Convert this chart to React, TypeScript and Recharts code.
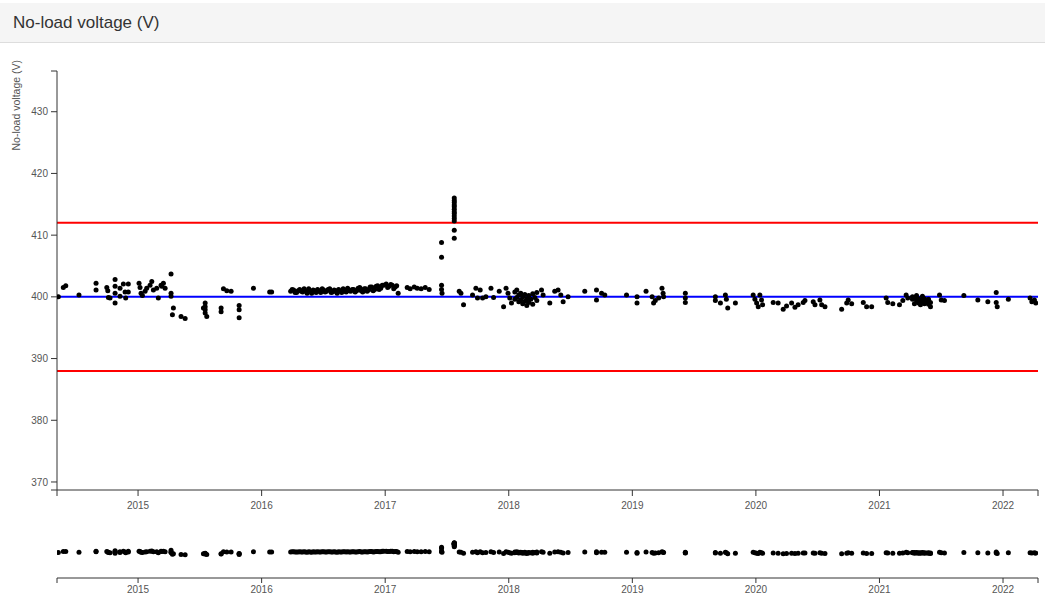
import React from 'react';
import { ScatterChart, Scatter, XAxis, YAxis, ReferenceLine, Label } from 'recharts';

// Each reading: [decimal year, no-load voltage in V]
type Reading = [number, number];

const readings2014: Reading[] = [
  [2014.355, 400.0], [2014.395, 401.5], [2014.415, 401.8], [2014.522, 400.3],
  [2014.660, 402.2], [2014.660, 401.1], [2014.747, 401.5], [2014.755, 401.0],
  [2014.760, 399.9], [2014.773, 399.8], [2014.814, 402.8], [2014.814, 401.7],
  [2014.814, 400.6], [2014.814, 399.0], [2014.854, 401.4], [2014.854, 400.1],
  [2014.881, 402.1], [2014.895, 400.8], [2014.900, 399.8], [2014.921, 402.1],
  [2014.921, 400.8],
];

const readings2015: Reading[] = [
  [2015.008, 402.2], [2015.016, 401.5], [2015.024, 400.6], [2015.035, 400.2],
  [2015.057, 400.9], [2015.070, 401.4], [2015.097, 401.9], [2015.111, 402.5],
  [2015.124, 401.1], [2015.151, 401.4], [2015.164, 399.8], [2015.186, 401.9],
  [2015.192, 401.7], [2015.205, 402.2], [2015.219, 401.4], [2015.267, 403.7],
  [2015.267, 400.6], [2015.267, 400.1], [2015.278, 397.1], [2015.286, 398.2],
  [2015.348, 396.8], [2015.381, 396.5], [2015.529, 398.2], [2015.543, 399.0],
  [2015.543, 398.4], [2015.543, 397.9], [2015.543, 397.4], [2015.556, 396.8],
  [2015.672, 398.2], [2015.672, 397.6], [2015.691, 401.3], [2015.718, 401.0],
  [2015.753, 400.9], [2015.818, 398.6], [2015.818, 397.9], [2015.818, 396.6],
  [2015.934, 401.4],
];

const readings2016: Reading[] = [
  [2016.065, 400.8], [2016.081, 400.8],
  [2016.235, 400.9], [2016.247, 401.2], [2016.259, 401.1], [2016.271, 400.7],
  [2016.283, 400.7], [2016.295, 401.0], [2016.308, 401.2], [2016.320, 400.9],
  [2016.332, 400.8], [2016.344, 401.3], [2016.356, 401.0], [2016.368, 400.6],
  [2016.381, 401.3], [2016.393, 400.9], [2016.405, 400.6], [2016.417, 401.1],
  [2016.429, 401.0], [2016.441, 400.7], [2016.453, 401.2], [2016.466, 400.9],
  [2016.478, 400.7], [2016.490, 401.3], [2016.502, 401.1], [2016.514, 400.8],
  [2016.526, 400.9], [2016.538, 401.2], [2016.551, 401.3], [2016.563, 400.7],
  [2016.575, 400.8], [2016.587, 401.1], [2016.599, 401.0], [2016.611, 400.6],
  [2016.623, 401.2], [2016.636, 400.9], [2016.648, 400.7], [2016.660, 401.3],
  [2016.672, 401.1], [2016.684, 400.8], [2016.696, 401.4], [2016.709, 401.0],
  [2016.721, 400.9], [2016.733, 401.2], [2016.745, 401.2], [2016.757, 400.8],
  [2016.769, 401.0], [2016.781, 401.4], [2016.794, 401.5], [2016.806, 401.0],
  [2016.818, 400.8], [2016.830, 401.3], [2016.842, 401.3], [2016.854, 400.9],
  [2016.866, 401.1], [2016.878, 401.6], [2016.891, 401.6], [2016.903, 401.0],
  [2016.915, 401.2], [2016.927, 401.7], [2016.939, 401.8], [2016.951, 401.2],
  [2016.964, 401.4], [2016.976, 401.9], [2016.988, 401.9],
];

const readings2017: Reading[] = [
  [2017.008, 402.1], [2017.020, 401.5], [2017.032, 401.7], [2017.045, 402.0],
  [2017.057, 401.9], [2017.069, 401.3], [2017.081, 401.6], [2017.093, 401.8],
  [2017.105, 400.6], [2017.178, 401.5], [2017.202, 401.3], [2017.235, 401.6],
  [2017.259, 401.4], [2017.291, 401.3], [2017.324, 401.5], [2017.356, 401.2],
  [2017.456, 408.8], [2017.456, 406.4], [2017.456, 401.9], [2017.456, 401.2],
  [2017.460, 400.6],
  [2017.559, 416.0], [2017.559, 415.6], [2017.559, 415.3], [2017.559, 414.9],
  [2017.559, 414.6], [2017.559, 414.2], [2017.559, 413.8], [2017.559, 413.5],
  [2017.559, 413.1], [2017.559, 412.7], [2017.559, 412.3], [2017.559, 410.8],
  [2017.559, 409.5],
  [2017.599, 400.9], [2017.613, 400.6], [2017.634, 398.7], [2017.707, 400.3],
  [2017.734, 401.4], [2017.747, 399.8], [2017.769, 401.1], [2017.788, 399.8],
  [2017.815, 400.0], [2017.856, 401.4], [2017.877, 399.9], [2017.923, 400.9],
  [2017.958, 398.4], [2017.978, 401.4], [2017.994, 400.6],
];

const readings2018: Reading[] = [
  [2018.008, 399.8], [2018.022, 399.0], [2018.049, 400.8], [2018.049, 399.6],
  [2018.065, 401.1], [2018.065, 399.9], [2018.081, 400.3], [2018.081, 399.2],
  [2018.097, 400.6], [2018.097, 399.5], [2018.113, 400.0], [2018.113, 398.9],
  [2018.130, 400.4], [2018.130, 399.3], [2018.146, 399.7], [2018.146, 398.6],
  [2018.162, 400.2], [2018.162, 399.1], [2018.178, 399.6], [2018.194, 400.5],
  [2018.194, 398.8], [2018.211, 399.9], [2018.227, 400.7], [2018.227, 399.4],
  [2018.265, 401.1], [2018.278, 400.3], [2018.332, 399.0], [2018.372, 400.9],
  [2018.399, 401.1], [2018.421, 400.3], [2018.440, 399.2], [2018.480, 400.0],
  [2018.615, 400.9], [2018.710, 401.1], [2018.710, 399.5], [2018.751, 400.6],
  [2018.777, 400.3], [2018.953, 400.3],
];

const readings2019: Reading[] = [
  [2019.038, 400.0], [2019.038, 399.0], [2019.111, 400.9], [2019.160, 400.0],
  [2019.172, 399.0], [2019.186, 399.4], [2019.213, 399.8], [2019.240, 401.4],
  [2019.249, 400.6], [2019.253, 400.0], [2019.429, 400.6], [2019.429, 399.8],
  [2019.429, 399.1], [2019.672, 400.0], [2019.672, 399.4], [2019.713, 399.0],
  [2019.753, 400.3], [2019.761, 399.6], [2019.772, 398.2], [2019.834, 399.0],
  [2019.978, 400.3], [2019.992, 399.6],
];

const readings2020: Reading[] = [
  [2020.006, 399.0], [2020.019, 398.4], [2020.032, 400.3], [2020.046, 399.5],
  [2020.054, 398.7], [2020.140, 399.1], [2020.180, 399.0], [2020.221, 398.0],
  [2020.248, 398.5], [2020.289, 399.0], [2020.316, 398.3], [2020.342, 398.7],
  [2020.383, 399.1], [2020.397, 399.4], [2020.464, 399.2], [2020.478, 398.7],
  [2020.518, 399.5], [2020.532, 398.7], [2020.559, 398.4], [2020.694, 398.0],
  [2020.735, 399.0], [2020.747, 399.5], [2020.775, 398.9], [2020.869, 399.1],
  [2020.896, 398.4], [2020.937, 398.4],
];

const readings2021: Reading[] = [
  [2021.054, 399.8], [2021.067, 399.1], [2021.108, 398.9], [2021.162, 398.7],
  [2021.189, 399.4], [2021.216, 400.3], [2021.229, 399.8],
  [2021.267, 399.6], [2021.267, 400.0], [2021.283, 398.9], [2021.283, 399.9],
  [2021.300, 399.4], [2021.300, 400.2], [2021.316, 399.0], [2021.316, 399.7],
  [2021.332, 399.5], [2021.332, 398.7], [2021.348, 399.2], [2021.348, 400.1],
  [2021.364, 399.7], [2021.364, 398.9], [2021.381, 399.3], [2021.397, 398.8],
  [2021.397, 399.6], [2021.413, 399.1], [2021.413, 398.4],
  [2021.486, 400.3], [2021.500, 399.5], [2021.526, 399.4], [2021.683, 400.2],
  [2021.796, 399.5], [2021.877, 399.2], [2021.945, 400.7], [2021.945, 399.1],
  [2021.953, 398.4],
];

const readings2022: Reading[] = [
  [2022.043, 399.6], [2022.219, 399.8], [2022.233, 399.2], [2022.254, 399.5],
  [2022.265, 399.0],
];

const NOMINAL_V = 400;
const UPPER_LIMIT_V = 412;
const LOWER_LIMIT_V = 388;

const YEAR_TICKS = [2015, 2016, 2017, 2018, 2019, 2020, 2021, 2022];
const VOLT_TICKS = [370, 380, 390, 400, 410, 420, 430];

const TIME_RANGE: [number, number] = [2014.344, 2022.283];
const VOLT_RANGE: [number, number] = [368.7, 436.6];
const OVERVIEW_VOLT_RANGE: [number, number] = [358.4, 436.8];

const TITLE = 'No-load voltage (V)';

const points = [
  ...readings2014, ...readings2015, ...readings2016, ...readings2017,
  ...readings2018, ...readings2019, ...readings2020, ...readings2021,
  ...readings2022,
].map(([t, v]) => ({ t, v }));

// Axis ticks include the domain ends so the outer tick marks are drawn.
const xTicks = [TIME_RANGE[0], ...YEAR_TICKS, TIME_RANGE[1]];
const yTicks = [VOLT_RANGE[0], ...VOLT_TICKS, VOLT_RANGE[1]];
const integerOnly = (v: number) => (Number.isInteger(v) ? String(v) : '');

const FONT = '"Liberation Sans", Arial, sans-serif';
const AXIS_COLOR = '#333';
const tickStyle = { fontSize: 10, fill: '#555', fontFamily: FONT };

const Dot = (props: any) => <circle cx={props.cx} cy={props.cy} r={2.5} fill="#000" />;

const axisTitle = () => (
  <text
    x={20}
    y={60}
    transform="rotate(-90 20 60)"
    textAnchor="end"
    fontSize={10.5}
    fill="#555"
    fontFamily={FONT}
  >
    {TITLE}
  </text>
);

export default function App() {
  return (
    <div style={{ position: 'absolute', left: 0, top: 0, width: 1045, height: 596, overflow: 'hidden', background: '#fff', fontFamily: FONT }}>
      <div
        style={{
          position: 'absolute', left: 0, top: 3, width: 1045, height: 40,
          boxSizing: 'border-box', background: '#f5f5f5', borderBottom: '1px solid #ddd',
          display: 'flex', alignItems: 'center', paddingLeft: 13,
          fontSize: 17, color: '#333',
        }}
      >
        {TITLE}
      </div>

      <div style={{ position: 'absolute', left: 0, top: 0 }}>
        <ScatterChart width={1045} height={520} margin={{ top: 71, right: 7, bottom: 0, left: 12 }}>
          <XAxis
            type="number"
            dataKey="t"
            domain={TIME_RANGE}
            ticks={xTicks}
            interval={0}
            tickFormatter={integerOnly}
            allowDataOverflow
            height={30}
            tickSize={6}
            tickMargin={6}
            stroke={AXIS_COLOR}
            tick={tickStyle}
          />
          <YAxis
            type="number"
            dataKey="v"
            domain={VOLT_RANGE}
            ticks={yTicks}
            interval={0}
            tickFormatter={integerOnly}
            allowDataOverflow
            width={45}
            tickSize={6}
            tickMargin={3}
            stroke={AXIS_COLOR}
            tick={tickStyle}
          >
            <Label content={axisTitle} />
          </YAxis>
          <ReferenceLine y={UPPER_LIMIT_V} stroke="#ff0000" strokeWidth={2} />
          <ReferenceLine y={LOWER_LIMIT_V} stroke="#ff0000" strokeWidth={2} />
          <ReferenceLine y={NOMINAL_V} stroke="#0000ff" strokeWidth={2} />
          <Scatter data={points} shape={Dot} isAnimationActive={false} />
        </ScatterChart>
      </div>

      <div style={{ position: 'absolute', left: 0, top: 520 }}>
        <ScatterChart width={1045} height={80} margin={{ top: 10, right: 7, bottom: 0, left: 57 }}>
          <XAxis
            type="number"
            dataKey="t"
            domain={TIME_RANGE}
            ticks={xTicks}
            interval={0}
            tickFormatter={integerOnly}
            allowDataOverflow
            height={22}
            tickSize={5}
            tickMargin={3}
            stroke={AXIS_COLOR}
            tick={tickStyle}
          />
          <YAxis type="number" dataKey="v" domain={OVERVIEW_VOLT_RANGE} allowDataOverflow hide />
          <Scatter data={points} shape={Dot} isAnimationActive={false} />
        </ScatterChart>
      </div>
    </div>
  );
}
